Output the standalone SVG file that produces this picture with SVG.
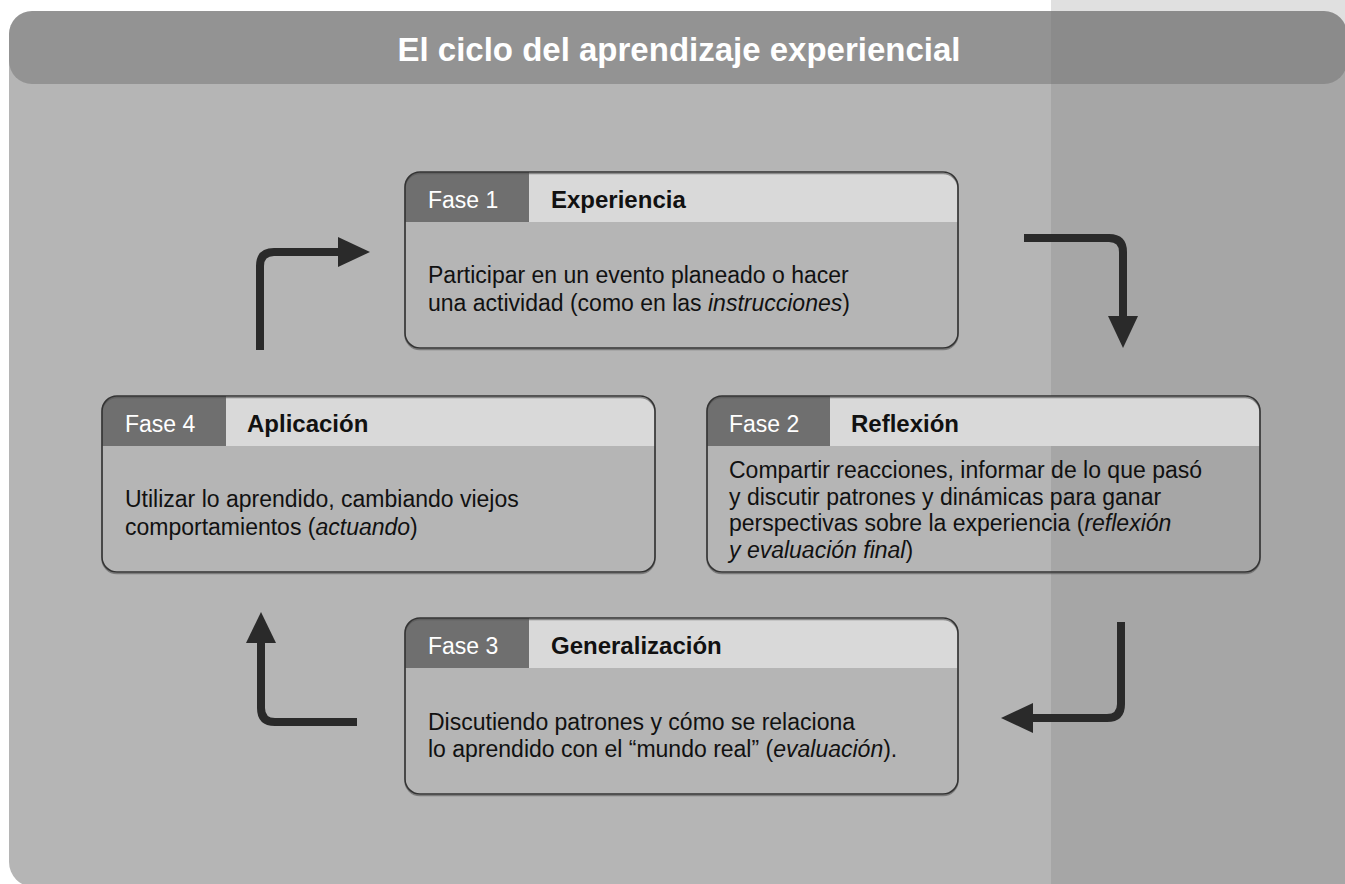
<svg xmlns="http://www.w3.org/2000/svg" width="1345" height="884" viewBox="0 0 1345 884">
<style>
.panel{fill:#b5b5b5}
.band{fill:#939393}
.col{fill:#6f6f6f;fill-opacity:0.216}
.title{font-family:"Liberation Sans",Arial,sans-serif;font-weight:bold;font-size:33px;fill:#ffffff}
.hdr-dark{fill:#6f6f6f}
.hdr-light{fill:#d9d9d9}
.frame{fill:none;stroke:#333333;stroke-width:1.5}
.shadow{fill:none;stroke:#555555;stroke-width:1.5;stroke-opacity:0.6}
.fase{font-family:"Liberation Sans",Arial,sans-serif;font-size:23px;fill:#ffffff}
.name{font-family:"Liberation Sans",Arial,sans-serif;font-weight:bold;font-size:24px;fill:#111111}
.body{font-family:"Liberation Sans",Arial,sans-serif;font-size:23px;fill:#111111}
.it{font-style:italic}
.conn{fill:none;stroke:#2a2a2a;stroke-width:8}
.head{fill:#2a2a2a}
</style>
<defs>
<clipPath id="c1"><rect x="405" y="172" width="553" height="176" rx="15"/></clipPath>
<clipPath id="c2"><rect x="707" y="396" width="553" height="176" rx="15"/></clipPath>
<clipPath id="c3"><rect x="405" y="618" width="553" height="176" rx="15"/></clipPath>
<clipPath id="c4"><rect x="102" y="396" width="553" height="176" rx="15"/></clipPath>
</defs>
<rect x="0" y="0" width="1345" height="884" fill="#ffffff"/>
<g id="background">
<path class="panel" d="M9,47 H1346 V887 H34 A25,25 0 0 1 9,862 Z"/>
<rect class="band" x="9" y="11" width="1338" height="73" rx="23"/>
<rect class="col" x="1051" y="0" width="294" height="884"/>
<text class="title" x="679" y="61" text-anchor="middle">El ciclo del aprendizaje experiencial</text>
</g>
<g id="fase1">
<g clip-path="url(#c1)">
<rect class="hdr-light" x="405" y="172" width="553" height="50"/>
<rect class="hdr-dark" x="405" y="172" width="124" height="50"/>
</g>
<rect class="shadow" x="405" y="173.5" width="553" height="176" rx="15"/>
<rect class="frame" x="405" y="172" width="553" height="176" rx="15"/>
<text class="fase" x="428" y="208">Fase 1</text>
<text class="name" x="551" y="208">Experiencia</text>
<text class="body" x="428" y="283">Participar en un evento planeado o hacer</text>
<text class="body" x="428" y="311">una actividad (como en las <tspan class="it">instrucciones</tspan>)</text>
</g>
<g id="fase2">
<g clip-path="url(#c2)">
<rect class="hdr-light" x="707" y="396" width="553" height="50"/>
<rect class="hdr-dark" x="707" y="396" width="123" height="50"/>
</g>
<rect class="shadow" x="707" y="397.5" width="553" height="176" rx="15"/>
<rect class="frame" x="707" y="396" width="553" height="176" rx="15"/>
<text class="fase" x="729" y="432">Fase 2</text>
<text class="name" x="851" y="432">Reflexión</text>
<text class="body" x="729" y="478">Compartir reacciones, informar de lo que pasó</text>
<text class="body" x="729" y="505">y discutir patrones y dinámicas para ganar</text>
<text class="body" x="729" y="531">perspectivas sobre la experiencia (<tspan class="it">reflexión</tspan></text>
<text class="body" x="729" y="558"><tspan class="it">y evaluación final</tspan>)</text>
</g>
<g id="fase3">
<g clip-path="url(#c3)">
<rect class="hdr-light" x="405" y="618" width="553" height="50"/>
<rect class="hdr-dark" x="405" y="618" width="124" height="50"/>
</g>
<rect class="shadow" x="405" y="619.5" width="553" height="176" rx="15"/>
<rect class="frame" x="405" y="618" width="553" height="176" rx="15"/>
<text class="fase" x="428" y="654">Fase 3</text>
<text class="name" x="551" y="654">Generalización</text>
<text class="body" x="428" y="730">Discutiendo patrones y cómo se relaciona</text>
<text class="body" x="428" y="757">lo aprendido con el “mundo real” (<tspan class="it">evaluación</tspan>).</text>
</g>
<g id="fase4">
<g clip-path="url(#c4)">
<rect class="hdr-light" x="102" y="396" width="553" height="50"/>
<rect class="hdr-dark" x="102" y="396" width="124" height="50"/>
</g>
<rect class="shadow" x="102" y="397.5" width="553" height="176" rx="15"/>
<rect class="frame" x="102" y="396" width="553" height="176" rx="15"/>
<text class="fase" x="125" y="432">Fase 4</text>
<text class="name" x="247" y="432">Aplicación</text>
<text class="body" x="125" y="507">Utilizar lo aprendido, cambiando viejos</text>
<text class="body" x="125" y="535">comportamientos (<tspan class="it">actuando</tspan>)</text>
</g>
<g id="connectors">
<path class="conn" d="M260,350 V266 Q260,252 274,252 H340"/>
<polygon class="head" points="338,237 370,252 338,267"/>
<path class="conn" d="M1024,238 H1109 Q1123,238 1123,252 V318"/>
<polygon class="head" points="1108,316 1138,316 1123,348"/>
<path class="conn" d="M1121,622 V704 Q1121,718 1107,718 H1031"/>
<polygon class="head" points="1033,703 1001,718 1033,733"/>
<path class="conn" d="M357,722 H275 Q261,722 261,708 V641"/>
<polygon class="head" points="246,643 276,643 261,612"/>
</g>
</svg>
